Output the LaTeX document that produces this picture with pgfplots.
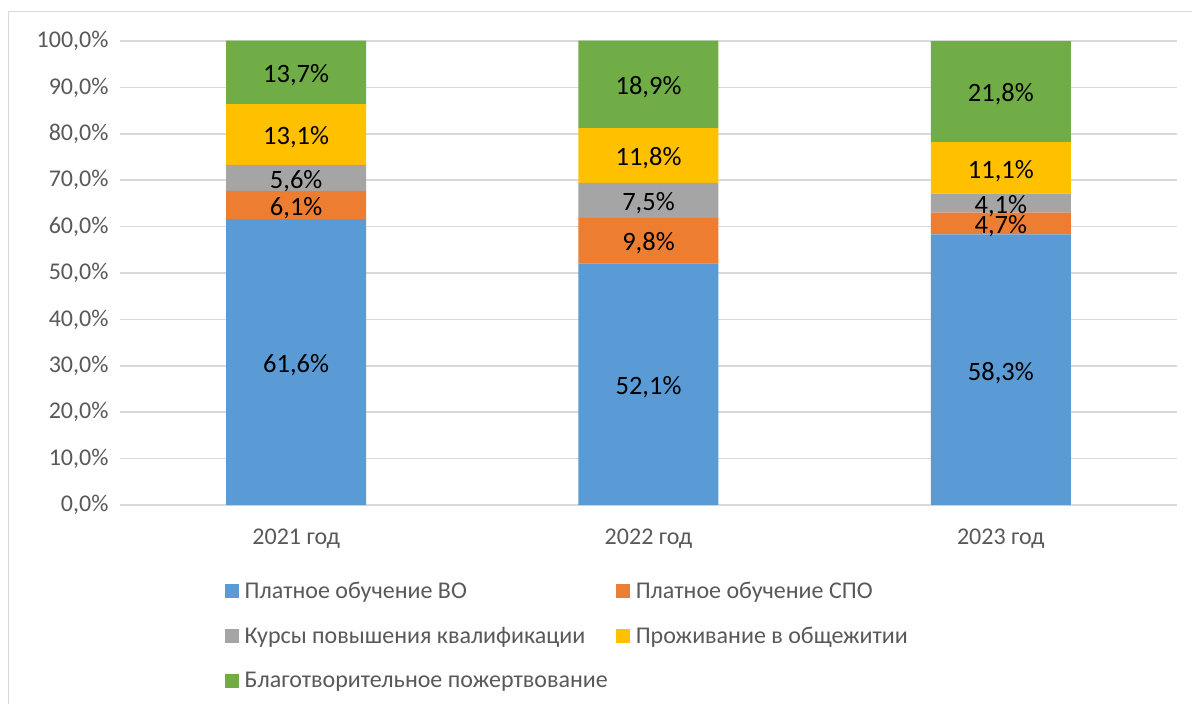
\documentclass[border=0pt]{standalone}
\usepackage{pgfplots}
\pgfplotsset{compat=1.18}
\usepackage{pgfplotstable}
\usepackage{fontspec}
\setmainfont{Carlito}

\definecolor{cVO}{HTML}{5B9BD5}
\definecolor{cSPO}{HTML}{ED7D31}
\definecolor{cKurs}{HTML}{A5A5A5}
\definecolor{cObsch}{HTML}{FFC000}
\definecolor{cBlag}{HTML}{70AD47}
\definecolor{gridgray}{HTML}{D9D9D9}
\definecolor{txtgray}{HTML}{595959}

% shares of revenue by year, %
\pgfplotstableread{
x vo spo kurs obsch blag
0 61.6 6.1 5.6 13.1 13.7
1 52.1 9.8 7.5 11.8 18.9
2 58.3 4.7 4.1 11.1 21.8
}\shares

\begin{document}
\begin{tikzpicture}[x=1pt,y=1pt]
\useasboundingbox (0,0) rectangle (1192,-704);
\fill[white] (0,0) rectangle (1192,-704);
\draw[gridgray,line width=1.5pt] (8.5,-704) -- (8.5,-11.7) -- (1192,-11.7);
\begin{axis}[
  at={(120pt,-505pt)}, anchor=south west,
  scale only axis, width=1057pt, height=464pt,
  ybar stacked, bar width=140pt,
  xmin=-0.5, xmax=2.5, ymin=0, ymax=100,
  clip=false,
  xtick=data, xticklabels={2021 год,2022 год,2023 год},
  ytick={0,10,...,100},
  yticklabel={\pgfmathprintnumber[fixed,fixed zerofill,precision=1,use comma]{\tick}\%},
  axis line style={draw=none},
  major tick length=0pt,
  ymajorgrids, grid style={gridgray,line width=1.5pt},
  tick label style={text=txtgray,font=\fontsize{24}{28}\selectfont},
  yticklabel style={xshift=-8pt},
  xticklabel style={yshift=-20pt},
  /pgf/number format/assume math mode=true,
  every axis plot/.append style={draw=none},
  every axis plot post/.append style={
    legend image code/.code={\fill[##1,draw=none] (0pt,-7pt) rectangle (14pt,7pt);}},
  nodes near coords={\pgfmathprintnumber[fixed,fixed zerofill,precision=1,use comma]{\pgfplotspointmeta}\%},
  every node near coord/.append style={anchor=center,yshift=-3pt,
    font=\fontsize{26.5}{30}\selectfont,text=black},
  point meta=explicit,
  legend style={at={(0.096,-0.158)}, anchor=north west, draw=none, fill=none,
    font=\fontsize{24}{28}\selectfont, text=txtgray,
    /tikz/every odd column/.append style={column sep=4pt},
    /tikz/every even column/.append style={column sep=6pt},
    row sep=23pt},
  legend columns=2, legend cell align=left,
]
\addplot[fill=cVO] table[x=x,y=vo,meta=vo] {\shares};
\addplot[fill=cSPO] table[x=x,y=spo,meta=spo] {\shares};
\addplot[fill=cKurs] table[x=x,y=kurs,meta=kurs] {\shares};
\addplot[fill=cObsch] table[x=x,y=obsch,meta=obsch] {\shares};
\addplot[fill=cBlag] table[x=x,y=blag,meta=blag] {\shares};
\legend{Платное обучение ВО,Платное обучение СПО,Курсы повышения квалификации,Проживание в общежитии,Благотворительное пожертвование}
\end{axis}
\end{tikzpicture}
\end{document}
